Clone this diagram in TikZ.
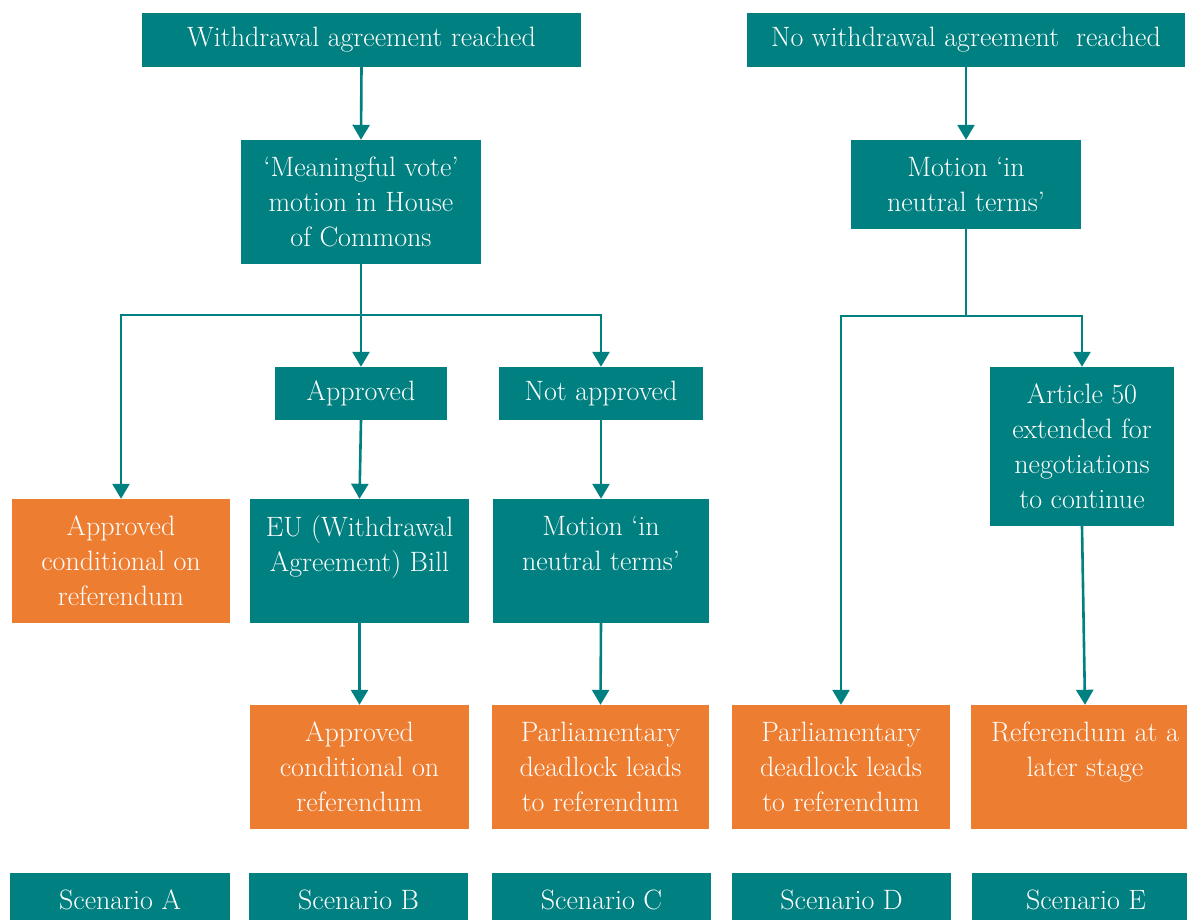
\documentclass[tikz,border=0pt]{standalone}
\usetikzlibrary{arrows.meta}
\definecolor{tealbox}{RGB}{0,128,128}
\definecolor{orangebox}{RGB}{237,125,49}
\begin{document}
\begin{tikzpicture}[x=1pt,y=-1pt,
  tbox/.style={fill=tealbox,text=white,align=center,inner sep=0pt,
    font=\fontsize{28}{35}\selectfont},
  obox/.style={tbox,fill=orangebox},
  conn/.style={draw=tealbox,line width=2.6pt},
  arr/.style={conn,-{Triangle[width=17pt,length=15pt]}}]
\useasboundingbox (0,0) rectangle (1187,920);
\fill[white] (0,0) rectangle (1187,920);

% top row
\node[tbox,minimum width=439pt,minimum height=54pt] (top1) at (361.5,40) {Withdrawal agreement reached};
\node[tbox,minimum width=438pt,minimum height=54pt] (top2) at (966,40) {No withdrawal agreement \ reached};

% second row
\node[tbox,minimum width=240pt,minimum height=124pt] (mv) at (361,202) {‘Meaningful vote’\\motion in House\\of Commons};
\node[tbox,minimum width=230pt,minimum height=89pt] (mot2) at (966,184.5) {Motion ‘in\\neutral terms’};

% third row
\node[tbox,minimum width=172pt,minimum height=53pt] (appr) at (361,393.5) {Approved};
\node[tbox,minimum width=204pt,minimum height=53pt] (napp) at (601,393.5) {Not approved};
\node[tbox,minimum width=184pt,minimum height=159pt] (art) at (1082,446.5) {Article 50\\extended for\\negotiations\\to continue};

% fourth row
\node[obox,minimum width=218pt,minimum height=124pt] (oA) at (121,561) {Approved\\conditional on\\referendum};
\node[tbox,minimum width=219pt,minimum height=124pt] (eub) at (359.5,561) {EU (Withdrawal\\Agreement) Bill\\\mbox{}};
\node[tbox,minimum width=216pt,minimum height=124pt] (motC) at (601,561) {Motion ‘in\\neutral terms’\\\mbox{}};

% fifth row
\node[obox,minimum width=219pt,minimum height=124pt] (oB) at (359.5,767) {Approved\\conditional on\\referendum};
\node[obox,minimum width=217pt,minimum height=124pt] (oC) at (600.5,767) {Parliamentary\\deadlock leads\\to referendum};
\node[obox,minimum width=218pt,minimum height=124pt] (oD) at (841,767) {Parliamentary\\deadlock leads\\to referendum};
\node[obox,minimum width=228pt,minimum height=124pt] (oE) at (1085,767) {Referendum at a\\later stage\\\mbox{}};

% scenarios
\node[tbox,minimum width=220pt,minimum height=54pt] (sA) at (120,900) {Scenario A};
\node[tbox,minimum width=219pt,minimum height=54pt] (sB) at (358.5,900) {Scenario B};
\node[tbox,minimum width=219pt,minimum height=54pt] (sC) at (601.5,900) {Scenario C};
\node[tbox,minimum width=219pt,minimum height=54pt] (sD) at (841.5,900) {Scenario D};
\node[tbox,minimum width=228pt,minimum height=54pt] (sE) at (1086,900) {Scenario E};

% connectors
\coordinate (jL) at (361,315);
\coordinate (jR) at (966,316);
\draw[arr] (top1.south) -- (mv.north);
\draw[arr] (top2.south) -- (mot2.north);
\draw[conn] (mv.south) -- (jL);
\draw[arr] (jL) -- (appr.north);
\draw[arr] (jL) -| (oA.north);
\draw[arr] (jL) -| (napp.north);
\draw[arr] (appr.south) -- (eub.north);
\draw[arr] (napp.south) -- (motC.north);
\draw[arr] (eub.south) -- (oB.north);
\draw[arr] (motC.south) -- (oC.north);
\draw[conn] (mot2.south) -- (jR);
\draw[arr] (jR) -| (oD.north);
\draw[arr] (jR) -| (art.north);
\draw[arr] (art.south) -- (oE.north);
\end{tikzpicture}
\end{document}
